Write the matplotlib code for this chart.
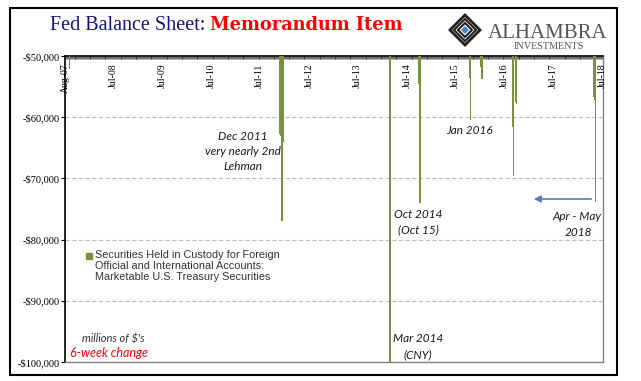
import numpy as np
import pandas as pd
import matplotlib
matplotlib.use("Agg")
import matplotlib.pyplot as plt
from matplotlib.patches import Rectangle, Polygon
from matplotlib.ticker import FuncFormatter

# 6-week change, millions of $, custody holdings of marketable Treasuries
bar_dates = ["2007-08-15",
             "2011-11-30", "2011-12-07", "2011-12-14", "2011-12-21",
             "2014-02-26", "2014-03-05",
             "2014-10-01", "2014-10-08",
             "2015-10-14", "2015-10-21",
             "2016-01-06", "2016-01-13",
             "2016-08-31", "2016-09-07", "2016-09-21", "2016-09-28",
             "2018-04-25", "2018-05-02", "2018-05-09"]
bar_values = [-52100,
              -62800, -63000, -77000, -64000,
              -104000, -78000,
              -54500, -74000,
              -53600, -60500,
              -51800, -53800,
              -61600, -69600, -57500, -57800,
              -56700, -57200, -73900]

tick_dates = ["2007-07-12", "2008-07-02", "2009-07-01", "2010-07-01", "2011-07-01",
              "2012-07-01", "2013-07-01", "2014-07-02", "2015-07-01", "2016-07-01",
              "2017-07-01", "2018-07-02"]
tick_labels = ["Aug-07", "Jul-08", "Jul-09", "Jul-10", "Jul-11", "Jul-12",
               "Jul-13", "Jul-14", "Jul-15", "Jul-16", "Jul-17", "Jul-18"]

W, H = 641, 381
fig = plt.figure(figsize=(W / 100, H / 100), dpi=100)
fig.patch.set_facecolor("white")

def fx(px):
    return px / W

def fy(py):
    return 1 - py / H

ax = fig.add_axes([fx(65), fy(362), fx(603) - fx(65), fy(56) - fy(362)])

dates = pd.to_datetime(bar_dates)
ax.bar(dates, bar_values, width=9, color="#77933C", edgecolor="none", zorder=3)

ax.set_xlim(pd.Timestamp("2007-07-10"), pd.Timestamp("2018-07-04"))
ax.set_ylim(-100000, -50000)
ax.set_yticks(np.arange(-100000, -49999, 10000))
ax.yaxis.set_major_formatter(FuncFormatter(lambda v, p: "-${:,.0f}".format(-v)))
for lab in ax.get_yticklabels():
    lab.set_fontfamily("Liberation Serif")
    lab.set_fontsize(7.5)
ax.tick_params(axis="y", direction="out", length=3, width=0.8, pad=1)
ax.yaxis.grid(True, linestyle=(0, (4, 2)), color="#BFBFBF", lw=0.8, zorder=0)

# weekly tick comb along the top axis
ax.xaxis.set_ticks_position("top")
ax.set_xticks([])
weeks = pd.date_range("2007-07-11", "2018-07-04", freq="7D")
ax.set_xticks(weeks, minor=True)
ax.tick_params(axis="x", which="minor", direction="in", length=2.5, width=0.4,
               top=True, bottom=False, labeltop=False)

for d, lab in zip(tick_dates, tick_labels):
    ax.text(pd.Timestamp(d), 0.975, lab, transform=ax.get_xaxis_transform(),
            rotation=90, ha="center", va="top", fontsize=7,
            family="Liberation Serif")

for s in ["top", "left"]:
    ax.spines[s].set_color("black")
    ax.spines[s].set_linewidth(1.2)
for s in ["bottom", "right"]:
    ax.spines[s].set_color("#808080")
    ax.spines[s].set_linewidth(1.0)

# annotations
ann = dict(fontsize=8.5, style="italic", family="Lato", color="#1a1a1a", ha="center")
fig.text(fx(243), fy(140), "Dec 2011", **ann)
fig.text(fx(243), fy(155), "very nearly 2nd", **ann)
fig.text(fx(243), fy(170), "Lehman", **ann)
fig.text(fx(418), fy(218), "Oct 2014", **ann)
fig.text(fx(418), fy(233), "(Oct 15)", **ann)
fig.text(fx(470), fy(134), "Jan 2016", **ann)
fig.text(fx(577), fy(220), "Apr - May", **ann)
fig.text(fx(578), fy(236), "2018", **ann)
fig.text(fx(418), fy(342), "Mar 2014", **ann)
fig.text(fx(418), fy(358), "(CNY)", **ann)
fig.text(fx(113), fy(342), "millions of $'s", fontsize=8, style="italic",
         family="Lato", color="#333333", ha="center")
fig.text(fx(109), fy(357), "6-week change", fontsize=9, style="italic",
         family="Lato", color="#FF0000", ha="center")

ax.annotate("", xy=(fx(531), fy(199)), xytext=(fx(594), fy(199)),
            xycoords="figure fraction", textcoords="figure fraction",
            arrowprops=dict(arrowstyle="-|>", color="#4F81BD", lw=1.2,
                            mutation_scale=10))

# legend key and label
fig.patches.append(Rectangle((fx(86), fy(259)), fx(6), 6 / H,
                             transform=fig.transFigure, color="#77933C"))
fig.text(fx(95), fy(250), "Securities Held in Custody for Foreign\n"
         "Official and International Accounts:\n"
         "Marketable U.S. Treasury Securities",
         fontsize=7.8, family="Liberation Sans", color="#333333",
         va="top", linespacing=1.12)

# title
fig.text(fx(50), fy(30), "Fed Balance Sheet:", fontsize=14.5,
         family="Liberation Serif", color="#14147A")
fig.text(fx(210), fy(30), "Memorandum Item", fontsize=12.8,
         family="DejaVu Serif", weight="bold", color="#FF0000")

# logo
cx, cy = 465, 30
def diamond(r, **kw):
    pts = [(fx(cx), fy(cy - r)), (fx(cx + r), fy(cy)),
           (fx(cx), fy(cy + r)), (fx(cx - r), fy(cy))]
    fig.patches.append(Polygon(pts, closed=True, transform=fig.transFigure, **kw))
diamond(17, facecolor="#222222", edgecolor="none")
diamond(13, facecolor="white", edgecolor="none")
diamond(11, facecolor="none", edgecolor="#222222", lw=1.5)
diamond(7, facecolor="white", edgecolor="#222222", lw=1.5)
diamond(4, facecolor="#4F81BD", edgecolor="none")
fig.text(fx(488), fy(38), "ALHAMBRA", fontsize=15, family="Liberation Serif",
         color="#555555")
fig.text(fx(549), fy(49), "INVESTMENTS", fontsize=7.3, family="Liberation Serif",
         color="#555555", ha="center")

fig.patches.append(Rectangle((fx(10), fy(375)), fx(607), 367 / H,
                             transform=fig.transFigure, fill=False,
                             edgecolor="black", lw=1.5))

fig.savefig("out.png", dpi=100)
